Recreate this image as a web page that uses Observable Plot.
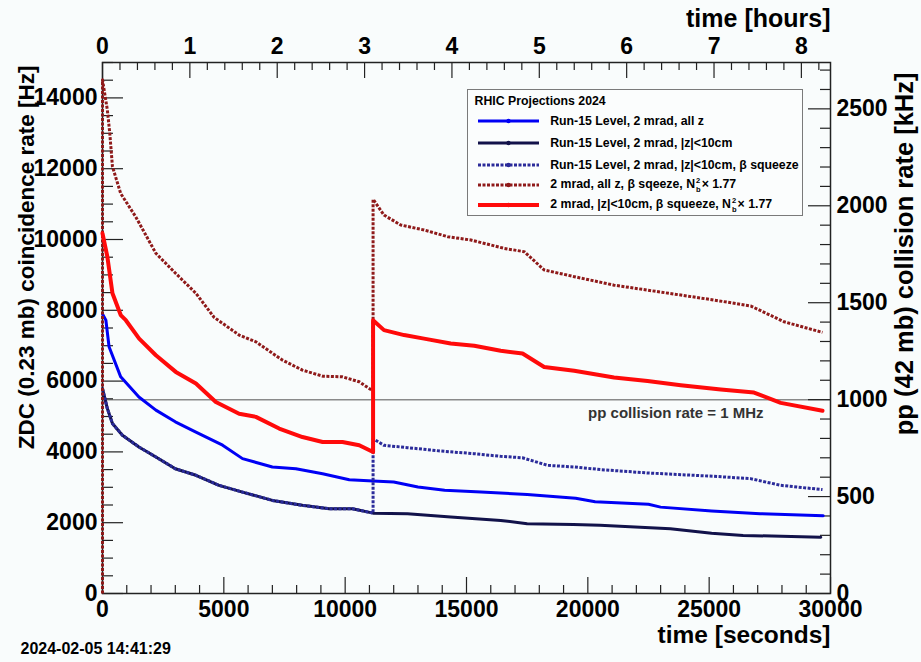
<!DOCTYPE html>
<html><head><meta charset="utf-8">
<script src="https://cdn.jsdelivr.net/npm/d3@7"></script>
<script src="https://cdn.jsdelivr.net/npm/@observablehq/plot@0.6"></script>
<style>
html,body{margin:0;padding:0;background:#f9fcfc;}
#wrap{position:relative;width:921px;height:662px;overflow:hidden;font-family:"Liberation Sans",Arial,sans-serif;}
#wrap svg.plot{position:absolute;left:0;top:0;}
#legend{position:absolute;left:467px;top:89px;width:336px;height:127px;border:1.5px solid #7a7a7a;background:#fbfdfd;box-sizing:border-box;font-weight:bold;font-size:12.3px;color:#000;}
#legend .lt{position:absolute;left:6.5px;top:3.5px;white-space:nowrap;}
#legend .row{position:absolute;left:9.5px;height:16px;display:flex;align-items:center;white-space:nowrap;}
#legend .row svg{margin-right:11.7px;flex:none;}
#legend .ss{display:inline-flex;flex-direction:column;font-size:7.5px;line-height:9px;vertical-align:middle;margin:0 1px 0 1px;}
</style></head>
<body>
<div id="wrap"></div>
<script>
// ---------- data ----------
const legendTitle = "RHIC Projections 2024";
const seriesLabels = [
  "Run-15 Level, 2 mrad, all z",
  "Run-15 Level, 2 mrad, |z|<10cm",
  "Run-15 Level, 2 mrad, |z|<10cm, β squeeze",
  "2 mrad, all z, β sqeeze, N_b^2× 1.77",
  "2 mrad, |z|<10cm, β squeeze, N_b^2× 1.77"
];

// time [s] and ZDC coincidence rate [Hz]
const s1_t = [0, 140, 270, 750, 1500, 2200, 3000, 3850, 4950, 5770, 7000, 7970, 9070, 10170, 11150, 12000, 13000, 14100, 15600, 17500, 19500, 20300, 22500, 23000, 25100, 27100, 29700];
const s1_v = [7900, 7720, 6970, 6120, 5550, 5180, 4850, 4560, 4190, 3810, 3575, 3525, 3385, 3215, 3180, 3150, 3010, 2915, 2865, 2800, 2690, 2590, 2520, 2440, 2330, 2255, 2195];

const s2_t = [0, 200, 410, 820, 1500, 2200, 3000, 3850, 4800, 5770, 7000, 8240, 9340, 10300, 11150, 12570, 14350, 16410, 17500, 19400, 20500, 23400, 25100, 26400, 29600];
const s2_v = [5790, 5225, 4800, 4470, 4140, 3855, 3525, 3340, 3055, 2865, 2630, 2490, 2395, 2395, 2270, 2255, 2160, 2065, 1970, 1950, 1925, 1830, 1705, 1640, 1590];

const s3_t = [0, 200, 410, 820, 1500, 2200, 3000, 3850, 4800, 5770, 7000, 8240, 9340, 10300, 11150, 11150, 11600, 12570, 13940, 15300, 16400, 17300, 18340, 19430, 20530, 22460, 25200, 26700, 27950, 29670];
const s3_v = [5790, 5225, 4800, 4470, 4140, 3855, 3525, 3340, 3055, 2865, 2630, 2490, 2395, 2395, 2270, 4375, 4185, 4120, 4025, 3950, 3875, 3835, 3620, 3575, 3500, 3405, 3310, 3245, 3055, 2935];

const s4_t = [0, 0, 200, 300, 410, 750, 1370, 2200, 3020, 3850, 4600, 5630, 6320, 7420, 8240, 9070, 9890, 10580, 11150, 11150, 11600, 12290, 13250, 14220, 15180, 16550, 17380, 18200, 19440, 21080, 22460, 23830, 25200, 26720, 28090, 29670];
const s4_v = [0, 14510, 13660, 13000, 12060, 11300, 10640, 9610, 9040, 8480, 7800, 7300, 7110, 6590, 6310, 6140, 6120, 5980, 5720, 11135, 10690, 10410, 10270, 10080, 9985, 9750, 9655, 9140, 8950, 8710, 8570, 8430, 8290, 8120, 7675, 7375];

const s5_t = [0, 200, 410, 750, 960, 1510, 2200, 3020, 3850, 4670, 5630, 6320, 7280, 8240, 9070, 9890, 10580, 11150, 11150, 11600, 12430, 13250, 14350, 15320, 16410, 17310, 18200, 19440, 21080, 22460, 23830, 25480, 26850, 27950, 29670];
const s5_v = [10175, 9515, 8480, 7865, 7720, 7200, 6730, 6260, 5930, 5410, 5080, 4990, 4660, 4420, 4280, 4280, 4190, 3995, 7720, 7440, 7300, 7200, 7060, 7000, 6855, 6780, 6400, 6290, 6100, 6000, 5885, 5760, 5675, 5385, 5160];

// axes
const xMajor = [0, 5000, 10000, 15000, 20000, 25000, 30000];
const yMajor = [0, 2000, 4000, 6000, 8000, 10000, 12000, 14000];
const hourTicks = [0, 1, 2, 3, 4, 5, 6, 7, 8];
const kHzMajor = [0, 500, 1000, 1500, 2000, 2500];
const kHzPerHz = 42 / 0.23 / 1000;        // pp (42 mb) vs ZDC (0.23 mb)
const ppLineKHz = 1000;                   // 1 MHz
const ppLineLabel = "pp collision rate = 1 MHz";
const stamp = "2024-02-05 14:41:29";

// ---------- styles ----------
const styles = [
  {stroke: "#0000f5", width: 3, dash: null},
  {stroke: "#12124a", width: 3, dash: null},
  {stroke: "#2b2b9a", width: 3, dash: "3,1.5"},
  {stroke: "#8f1a1a", width: 3, dash: "3,1.5"},
  {stroke: "#ff0a0a", width: 4, dash: null}
];

const rows = (t, v) => t.map((d, i) => ({t: d, v: v[i]}));
const series = [rows(s1_t, s1_v), rows(s2_t, s2_v), rows(s3_t, s3_v), rows(s4_t, s4_v), rows(s5_t, s5_v)];

const W = 921, H = 662, mL = 102, mR = 91, mT = 62, mB = 69;
const iW = W - mL - mR, iH = H - mT - mB;

const xMinor = d3.range(0, 30001, 1000).filter(d => d % 5000 !== 0);
const yMinor = d3.range(0, 15001, 500).filter(d => d % 2000 !== 0);
const hMinor = d3.range(0, 8.34, 0.2).map(d => +d.toFixed(1)).filter(d => Math.abs(d - Math.round(d)) > 1e-6);
const kMinor = d3.range(0, 2701, 100).filter(d => d % 500 !== 0);

const tickColor = "#222";
const marks = [
  Plot.ruleY([ppLineKHz / kHzPerHz], {stroke: "#8a8a8a", strokeWidth: 1.5}),
  Plot.frame({stroke: "#222", strokeWidth: 1.5}),
  // inner ticks
  Plot.tickY(yMajor, {y: d => d, insetRight: iW - 21, stroke: tickColor, strokeWidth: 1.2}),
  Plot.tickY(yMinor, {y: d => d, insetRight: iW - 11, stroke: tickColor, strokeWidth: 1.2}),
  Plot.tickY(kHzMajor, {y: d => d / kHzPerHz, insetLeft: iW - 22, stroke: tickColor, strokeWidth: 1.2}),
  Plot.tickY(kMinor, {y: d => d / kHzPerHz, insetLeft: iW - 10, stroke: tickColor, strokeWidth: 1.2}),
  Plot.tickX(xMajor, {x: d => d, insetTop: iH - 16, stroke: tickColor, strokeWidth: 1.2}),
  Plot.tickX(xMinor, {x: d => d, insetTop: iH - 8, stroke: tickColor, strokeWidth: 1.2}),
  Plot.tickX(hourTicks, {x: d => d * 3600, insetBottom: iH - 16, stroke: tickColor, strokeWidth: 1.2}),
  Plot.tickX(hMinor, {x: d => d * 3600, insetBottom: iH - 8, stroke: tickColor, strokeWidth: 1.2}),
];
series.forEach((data, i) => {
  const s = styles[i];
  marks.push(Plot.line(data, {x: "t", y: "v", stroke: s.stroke, strokeWidth: s.width,
    strokeDasharray: s.dash, strokeLinejoin: "round", strokeLinecap: s.dash ? "butt" : "round", curve: "linear"}));
});
marks.push(
  Plot.axisX({anchor: "bottom", ticks: xMajor, tickSize: 0, tickPadding: 7, label: null, tickFormat: d => String(d)}),
  Plot.axisX({anchor: "top", ticks: hourTicks.map(h => h * 3600), tickSize: 0, tickPadding: 9, label: null, tickFormat: d => String(Math.round(d / 3600))}),
  Plot.axisY({anchor: "left", ticks: yMajor, tickSize: 0, tickPadding: 5, label: null, tickFormat: d => String(d)}),
  Plot.axisY({anchor: "right", ticks: kHzMajor.map(k => k / kHzPerHz), tickSize: 0, tickPadding: 6, label: null, tickFormat: d => String(Math.round(d * kHzPerHz))}),
  Plot.text(["time [seconds]"], {frameAnchor: "bottom-right", textAnchor: "end", dy: 49, fontSize: 24.5, fontWeight: "bold"}),
  Plot.text(["time [hours]"], {frameAnchor: "top-right", textAnchor: "end", dy: -53, fontSize: 25, fontWeight: "bold"}),
  Plot.text(["ZDC (0.23 mb) coincidence rate [Hz]"], {frameAnchor: "top-left", rotate: -90, textAnchor: "end", dx: -84, dy: 3, fontSize: 22.5, fontWeight: "bold"}),
  Plot.text(["pp (42 mb) collision rate [kHz]"], {frameAnchor: "top-right", rotate: -90, textAnchor: "end", dx: 64, dy: 10, fontSize: 25.5, fontWeight: "bold"}),
  Plot.text([{v: ppLineKHz / kHzPerHz, label: ppLineLabel}], {y: "v", text: "label", frameAnchor: "right", textAnchor: "end", dx: -67, dy: 14, fontSize: 15, fontWeight: "bold", fill: "#333"}),
  Plot.text([stamp], {frameAnchor: "bottom-left", textAnchor: "start", dx: -82, dy: 60, fontSize: 16, fontWeight: "bold"})
);

const chart = Plot.plot({
  width: W, height: H,
  marginLeft: mL, marginRight: mR, marginTop: mT, marginBottom: mB,
  x: {domain: [0, 30000]},
  y: {domain: [0, 15000]},
  style: {background: "transparent", fontFamily: "'Liberation Sans', Arial, sans-serif", fontSize: "23px", fontWeight: "bold", color: "#000", overflow: "visible"},
  marks
});
const wrap = document.getElementById("wrap");
wrap.appendChild(chart);

// ---------- legend ----------
const leg = document.createElement("div");
leg.id = "legend";
const title = document.createElement("div");
title.className = "lt";
title.textContent = legendTitle;
leg.appendChild(title);
const rowCenters = [32.7, 54.3, 76, 96, 116.5];
seriesLabels.forEach((lab, i) => {
  const s = styles[i];
  const r = document.createElement("div");
  r.className = "row";
  r.style.top = (rowCenters[i] - 1.5 - 8) + "px";
  const sw = `<svg width="61" height="8"><line x1="0" y1="4" x2="61" y2="4" stroke="${s.stroke}" stroke-width="${s.width}" ${s.dash ? `stroke-dasharray="${s.dash}"` : ""}/><circle cx="30.5" cy="4" r="2.2" fill="${s.stroke}"/></svg>`;
  const html = lab.replace(/&/g, "&amp;").replace(/</g, "&lt;")
    .replace("N_b^2", 'N<span class="ss"><span>2</span><span>b</span></span>');
  r.innerHTML = sw + `<span>${html}</span>`;
  leg.appendChild(r);
});
wrap.appendChild(leg);
</script>
</body></html>
